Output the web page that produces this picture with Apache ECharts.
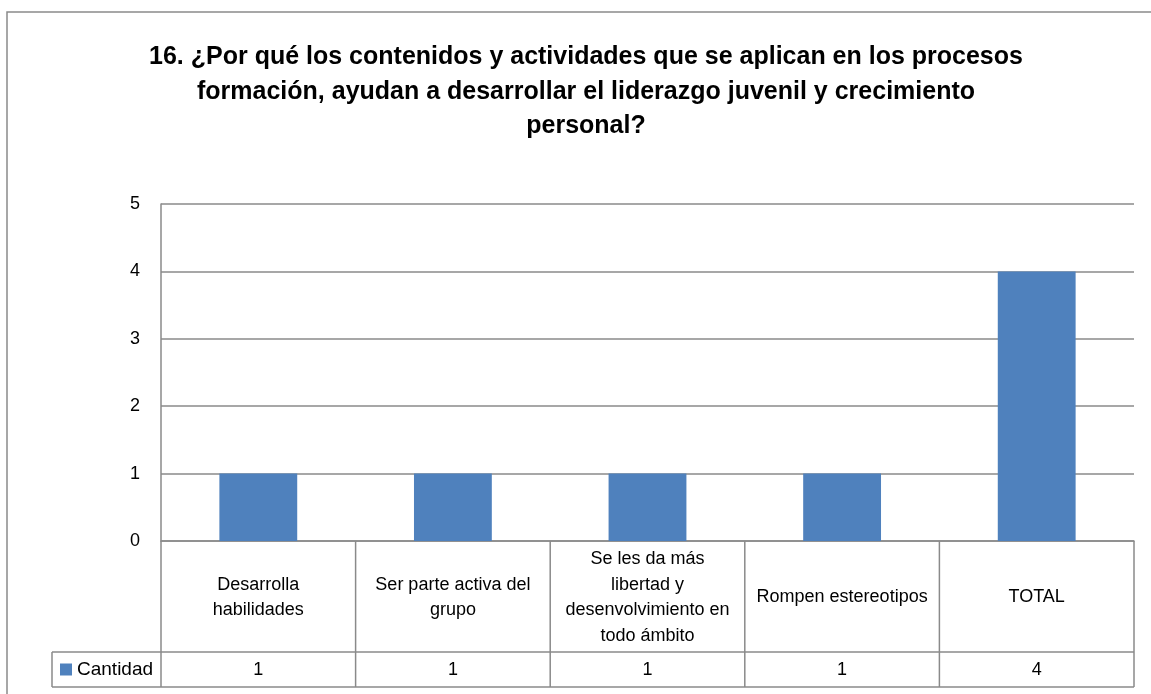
<!DOCTYPE html>
<html>
<head>
<meta charset="utf-8">
<script src="https://cdn.jsdelivr.net/npm/echarts@6/dist/echarts.min.js"></script>
<style>
html,body{margin:0;padding:0;background:#fff;}
#chart{width:1151px;height:694px;}
</style>
</head>
<body>
<div id="chart"></div>
<script>
// datos del grafico
var titleText = '16. ¿Por qué los contenidos y actividades que se aplican en los procesos\nformación, ayudan a desarrollar el liderazgo juvenil y crecimiento\npersonal?';
var categories = ['Desarrolla\nhabilidades', 'Ser parte activa del\ngrupo', 'Se les da más\nlibertad y\ndesenvolvimiento en\ntodo ámbito', 'Rompen estereotipos', 'TOTAL'];
var seriesName = 'Cantidad';
var cantidad = [1, 1, 1, 1, 4];

// caja del grafico y tabla de datos
var gridL = 161, gridR = 1134, gridT = 204, gridB = 541;
var rowSplit = 652, tableB = 687, legendL = 52;
var lineColor = '#8a8a8a';
var font = 'Liberation Sans';

var myChart = echarts.init(document.getElementById('chart'));

var option = {
  animation: false,
  title: {
    text: titleText,
    left: 581,
    top: 35,
    textAlign: 'center',
    textStyle: {
      fontFamily: font,
      fontWeight: 'bold',
      fontSize: 25,
      lineHeight: 34.5,
      color: '#000'
    }
  },
  legend: {
    data: [seriesName],
    left: legendL + 8,
    top: rowSplit + 8,
    padding: 0,
    icon: 'rect',
    itemWidth: 12,
    itemHeight: 12,
    itemGap: 5,
    textStyle: { fontFamily: font, fontSize: 19, color: '#000' }
  },
  grid: {
    left: gridL,
    right: 1151 - gridR,
    top: gridT,
    bottom: 694 - gridB
  },
  xAxis: {
    type: 'category',
    data: categories,
    axisLine: { lineStyle: { color: lineColor, width: 1.5 } },
    axisTick: { show: false },
    axisLabel: {
      interval: 0,
      margin: (rowSplit - gridB) / 2 + 1,
      verticalAlign: 'middle',
      align: 'center',
      fontFamily: font,
      fontSize: 18,
      lineHeight: 25.5,
      color: '#000'
    }
  },
  yAxis: {
    type: 'value',
    min: 0,
    max: 5,
    interval: 1,
    axisLine: { show: true, lineStyle: { color: lineColor, width: 1.5 } },
    axisTick: { show: false },
    axisLabel: { margin: 21, fontFamily: font, fontSize: 18, color: '#000' },
    splitLine: { lineStyle: { color: lineColor, width: 1.5 } }
  },
  series: [{
    name: seriesName,
    type: 'bar',
    barWidth: '40%',
    data: cantidad,
    itemStyle: { color: '#4F81BD' }
  }]
};
myChart.setOption(option);

// tabla de datos bajo el eje
function buildTable() {
  var g = [];
  var ln = function (x1, y1, x2, y2) {
    g.push({ type: 'line', silent: true, shape: { x1: x1, y1: y1, x2: x2, y2: y2 },
      style: { stroke: lineColor, lineWidth: 1.5 } });
  };
  // borde exterior
  g.push({ type: 'rect', silent: true, shape: { x: 7, y: 12, width: 1160, height: 700 },
    style: { fill: null, stroke: lineColor, lineWidth: 1.5 } });
  var band = (gridR - gridL) / categories.length;
  ln(gridL, gridB, gridL, tableB);
  ln(legendL, rowSplit, gridR, rowSplit);
  ln(legendL, tableB, gridR, tableB);
  ln(legendL, rowSplit, legendL, tableB);
  for (var i = 0; i < categories.length; i++) {
    var cx = myChart.convertToPixel({ xAxisIndex: 0 }, i);
    ln(cx + band / 2, gridB, cx + band / 2, tableB);
    g.push({ type: 'text', silent: true, x: cx, y: (rowSplit + tableB) / 2 + 1,
      style: { text: String(cantidad[i]), fill: '#000', font: '18px ' + font,
        textAlign: 'center', textVerticalAlign: 'middle' } });
  }
  myChart.setOption({ graphic: g });
}
buildTable();
</script>
</body>
</html>
